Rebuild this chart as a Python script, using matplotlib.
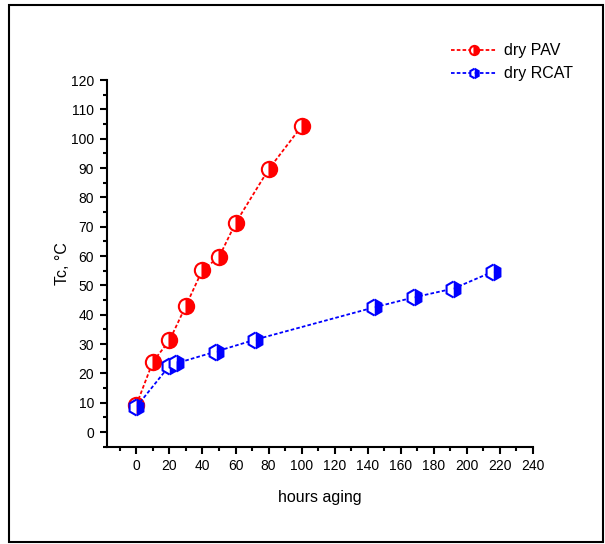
import matplotlib.pyplot as plt
from matplotlib.patches import Rectangle
from matplotlib.ticker import MultipleLocator

plt.rcParams['font.family'] = ['Liberation Sans', 'DejaVu Sans']

# data
pav_hours = [0, 10, 20, 30, 40, 50, 60, 80, 100]
pav_tc = [9.3, 24, 31.2, 43.1, 55.3, 59.6, 71.2, 89.5, 104.2]
rcat_hours = [0, 20, 24, 48, 72, 144, 168, 192, 216]
rcat_tc = [8.6, 22.6, 23.4, 27.4, 31.5, 42.5, 45.9, 48.9, 54.7]

fig = plt.figure(figsize=(6.05, 5.44), dpi=100)
ax = fig.add_axes([0.1764, 0.1789, 0.8805 - 0.1764, 0.8529 - 0.1789])

# outer frame round the whole picture
fig.patches.append(Rectangle((9 / 605, 2 / 544), 594 / 605, 537 / 544, transform=fig.transFigure,
                             fill=False, edgecolor='black', linewidth=1.5))

dash = (0, (2.0, 1.2))
ax.plot(pav_hours, pav_tc, color='red', linestyle=dash, linewidth=1.3,
        marker='o', markersize=11, fillstyle='right', markerfacecolor='red',
        markerfacecoloralt='white', markeredgecolor='red', markeredgewidth=1.5,
        label='dry PAV')
ax.plot(rcat_hours, rcat_tc, color='blue', linestyle=dash, linewidth=1.3,
        marker='h', markersize=11.5, fillstyle='right', markerfacecolor='blue',
        markerfacecoloralt='white', markeredgecolor='blue', markeredgewidth=1.5,
        label='dry RCAT')

ax.set_xlim(-18, 240)
ax.set_ylim(-5, 120)
ax.xaxis.set_major_locator(MultipleLocator(20))
ax.xaxis.set_minor_locator(MultipleLocator(10))
ax.yaxis.set_major_locator(MultipleLocator(10))
ax.yaxis.set_minor_locator(MultipleLocator(5))
ax.set_xticks(range(0, 241, 20))

for s in ['top', 'right']:
    ax.spines[s].set_visible(False)
for s in ['left', 'bottom']:
    ax.spines[s].set_linewidth(1.5)
ax.tick_params(which='major', direction='out', length=5, width=1.5, labelsize=10, pad=4)
ax.tick_params(which='minor', direction='out', length=3, width=1.5)

ax.set_xlabel('hours aging', fontsize=11.5, labelpad=12)
ax.set_ylabel('Tc, °C', fontsize=11.5, labelpad=1)

ax.legend(loc='upper left', bbox_to_anchor=(445 / 605, 1 - 37 / 544), bbox_transform=fig.transFigure,
          frameon=False, fontsize=11.5, markerscale=0.6, handlelength=2.8, handletextpad=0.5,
          labelspacing=0.5, borderaxespad=0)

plt.savefig('out.png', dpi=100)
